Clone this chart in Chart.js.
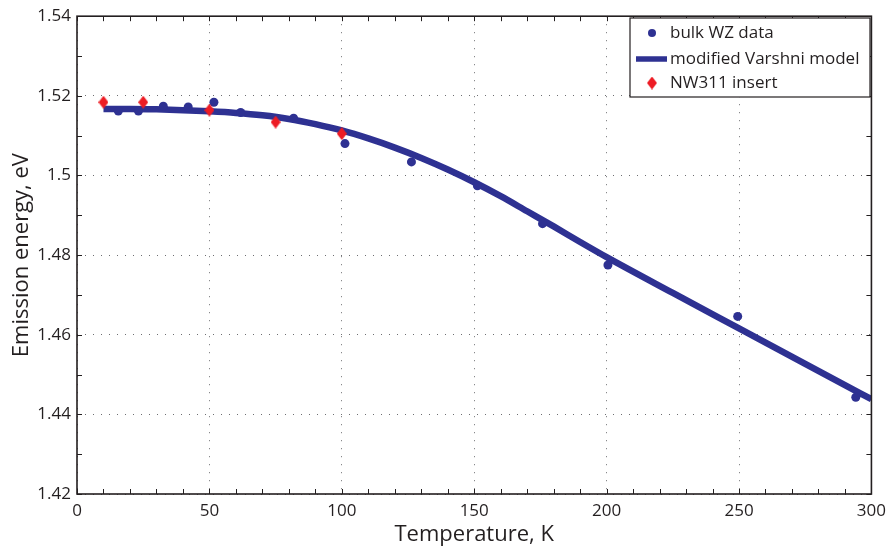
<!DOCTYPE html>
<html>
<head>
<meta charset="utf-8">
<script src="https://cdn.jsdelivr.net/npm/chart.js@4/dist/chart.umd.min.js"></script>
<style>
  html, body { margin: 0; padding: 0; background: #fff; }
</style>
</head>
<body>
<canvas id="chart" width="893" height="551"></canvas>
<script>
// bulk wurtzite PL peak positions
const bulkT = [15.6, 23.2, 32.6, 42, 51.7, 61.8, 81.8, 101.2, 126.3, 151.2, 175.8, 200.5, 249.5, 294.1];
const bulkE = [1.5162, 1.5162, 1.5174, 1.5172, 1.5184, 1.5158, 1.5144, 1.5080, 1.5034, 1.4974, 1.4879, 1.4775, 1.4646, 1.4443];

// fitted modified Varshni curve
const modelT = [10, 20, 30, 40, 50, 60, 70, 80, 90, 100, 110, 120, 130, 140, 150, 160, 170, 180, 190, 200, 225, 250, 275, 300];
const modelE = [1.5167, 1.5167, 1.5166, 1.5164, 1.5161, 1.5157, 1.5151, 1.5142, 1.5129, 1.5113, 1.5093, 1.5070, 1.5044, 1.5015, 1.4983, 1.4948, 1.4910, 1.4872, 1.4833, 1.4795, 1.4705, 1.4616, 1.4527, 1.4438];

// NW311 insert emission
const nwT = [10, 25, 50, 75, 100];
const nwE = [1.5184, 1.5184, 1.5164, 1.5134, 1.5105];

const xTicks = [0, 50, 100, 150, 200, 250, 300];
const yTicks = [1.42, 1.44, 1.46, 1.48, 1.5, 1.52, 1.54];
const xMinorStep = 10;
const yMinorStep = 0.01;

const navy = '#2e3192';
const red = '#ed1c24';
const ink = '#231f20';

Chart.defaults.font.family = "'Open Sans', sans-serif";
Chart.defaults.color = ink;

function pts(xs, ys) {
  return xs.map((v, i) => ({ x: v, y: ys[i] }));
}

// tall red diamond marker
function diamond(w, h, color) {
  const c = document.createElement('canvas');
  c.width = w; c.height = h;
  const g = c.getContext('2d');
  g.fillStyle = color;
  g.beginPath();
  g.moveTo(w / 2, 0);
  g.lineTo(w, h / 2);
  g.lineTo(w / 2, h);
  g.lineTo(0, h / 2);
  g.closePath();
  g.fill();
  return c;
}
const diamondImg = diamond(10, 13, red);

// box around the axes with inward ticks on all four sides
const framePlugin = {
  id: 'frame',
  afterDatasetsDraw(chart) {
    const { ctx, chartArea: a, scales: { x, y } } = chart;
    ctx.save();
    ctx.strokeStyle = ink;
    ctx.lineWidth = 1;
    ctx.beginPath();
    for (let t = x.min; t <= x.max + 1e-9; t += xMinorStep) {
      const px = Math.round(x.getPixelForValue(t)) + 0.5;
      ctx.moveTo(px, a.bottom); ctx.lineTo(px, a.bottom - 5);
      ctx.moveTo(px, a.top); ctx.lineTo(px, a.top + 5);
    }
    for (let v = y.min; v <= y.max + 1e-9; v += yMinorStep) {
      const py = Math.round(y.getPixelForValue(v)) + 0.5;
      ctx.moveTo(a.left, py); ctx.lineTo(a.left + 5, py);
      ctx.moveTo(a.right, py); ctx.lineTo(a.right - 5, py);
    }
    ctx.stroke();
    ctx.lineWidth = 1.6;
    ctx.strokeRect(a.left, a.top, a.right - a.left, a.bottom - a.top);
    ctx.restore();
  }
};

// boxed legend in the upper right corner
const legendPlugin = {
  id: 'boxLegend',
  afterDraw(chart) {
    const { ctx } = chart;
    const bx = 630, by = 18, bw = 240, bh = 79;
    ctx.save();
    ctx.fillStyle = '#fff';
    ctx.fillRect(bx, by, bw, bh);
    ctx.strokeStyle = ink;
    ctx.lineWidth = 1.2;
    ctx.strokeRect(bx, by, bw, bh);
    const rows = [
      { label: chart.data.datasets[1].label, kind: 'dot', y: 33 },
      { label: chart.data.datasets[0].label, kind: 'line', y: 59 },
      { label: chart.data.datasets[2].label, kind: 'diamond', y: 83 }
    ];
    ctx.font = "17px 'Open Sans', sans-serif";
    ctx.textBaseline = 'middle';
    rows.forEach(r => {
      if (r.kind === 'dot') {
        ctx.fillStyle = navy;
        ctx.beginPath();
        ctx.arc(652, r.y, 4, 0, Math.PI * 2);
        ctx.fill();
      } else if (r.kind === 'line') {
        ctx.strokeStyle = navy;
        ctx.lineWidth = 5.5;
        ctx.beginPath();
        ctx.moveTo(636, r.y); ctx.lineTo(667, r.y);
        ctx.stroke();
      } else {
        ctx.drawImage(diamondImg, 652 - 5, r.y - 6.5);
      }
      ctx.fillStyle = ink;
      ctx.fillText(r.label, 670, r.y);
    });
    ctx.restore();
  }
};

new Chart(document.getElementById('chart'), {
  type: 'scatter',
  data: {
    datasets: [{
      label: 'modified Varshni model',
      type: 'line',
      data: pts(modelT, modelE),
      borderColor: navy,
      borderWidth: 6.5,
      pointRadius: 0,
      fill: false,
      cubicInterpolationMode: 'monotone',
      order: 3
    }, {
      label: 'bulk WZ data',
      data: pts(bulkT, bulkE),
      backgroundColor: navy,
      borderWidth: 0,
      pointRadius: 4.5,
      order: 2
    }, {
      label: 'NW311 insert',
      data: pts(nwT, nwE),
      pointStyle: diamondImg,
      order: 1
    }]
  },
  options: {
    responsive: false,
    animation: false,
    layout: { padding: { top: 14, right: 18, left: 0, bottom: 0 } },
    plugins: {
      legend: { display: false },
      tooltip: { enabled: false }
    },
    scales: {
      x: {
        type: 'linear',
        min: 0,
        max: 300,
        afterFit: s => { s.height = 57; },
        afterBuildTicks: s => { s.ticks = xTicks.map(v => ({ value: v })); },
        ticks: { font: { size: 17 }, padding: 7, maxRotation: 0 },
        grid: { color: '#6d6e71', lineWidth: 1, drawTicks: false },
        border: { display: false, dash: [1, 7] },
        title: {
          display: true,
          text: 'Temperature, K',
          font: { size: 22 },
          padding: { top: 0, bottom: 3 }
        }
      },
      y: {
        type: 'linear',
        min: 1.42,
        max: 1.54,
        afterFit: s => { s.width = 77; },
        afterBuildTicks: s => { s.ticks = yTicks.map(v => ({ value: v })); },
        ticks: {
          font: { size: 17 },
          padding: 6,
          callback: v => String(+v.toFixed(2))
        },
        grid: { color: '#6d6e71', lineWidth: 1, drawTicks: false },
        border: { display: false, dash: [1, 7] },
        title: {
          display: true,
          text: 'Emission energy, eV',
          font: { size: 22 },
          padding: { top: 9, bottom: 0 }
        }
      }
    }
  },
  plugins: [framePlugin, legendPlugin]
});
</script>
</body>
</html>
